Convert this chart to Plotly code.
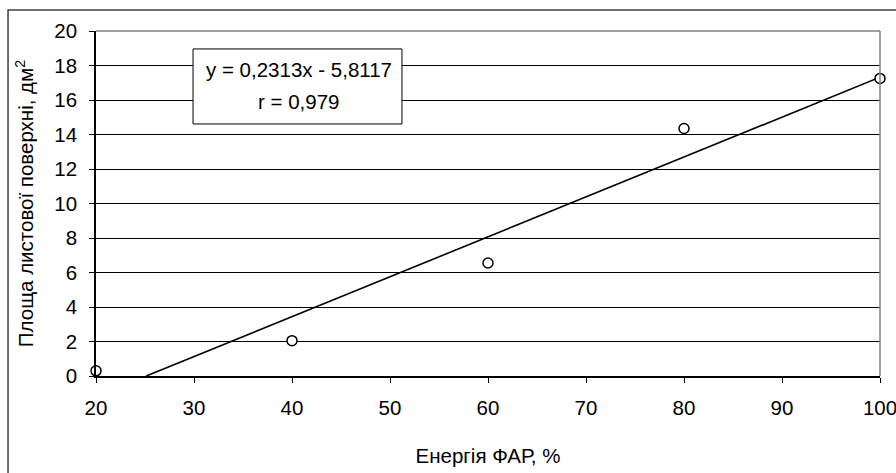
import plotly.graph_objects as go

energy = [20, 40, 60, 80, 100]
area = [0.3, 2.05, 6.55, 14.35, 17.25]
slope = 0.2313
intercept = -5.8117
eq_text = "y = 0,2313x - 5,8117"
r_text = "r = 0,979"
x_ticks = [20, 30, 40, 50, 60, 70, 80, 90, 100]
y_ticks = [0, 2, 4, 6, 8, 10, 12, 14, 16, 18, 20]

x0 = -intercept / slope
line_x = [x0, 100]
line_y = [slope * v + intercept for v in line_x]

FONT = "Liberation Sans, Arial, sans-serif"
FS = 20.5

fig = go.Figure()
fig.add_trace(go.Scatter(x=line_x, y=line_y, mode="lines",
                         line=dict(color="black", width=1.6),
                         hoverinfo="skip", showlegend=False, cliponaxis=False))
fig.add_trace(go.Scatter(x=energy, y=area, mode="markers",
                         marker=dict(symbol="circle", size=10, color="white",
                                     line=dict(color="black", width=1.5)),
                         showlegend=False, cliponaxis=False))

fig.update_layout(
    width=896, height=473,
    margin=dict(l=96, r=16, t=31, b=97),
    paper_bgcolor="white", plot_bgcolor="white",
    font=dict(family=FONT, color="black", size=FS),
    xaxis=dict(range=[20, 100], tickvals=x_ticks, ticks="outside", ticklen=5,
               tickcolor="black", showline=True, linecolor="black", linewidth=1.5,
               showgrid=False, zeroline=False, mirror=False, automargin=False,
               tickfont=dict(size=FS), ticklabelstandoff=8, ticklabeloverflow="allow",
               title=dict(text="Енергія ФАР, %", font=dict(size=FS), standoff=30)),
    yaxis=dict(range=[0, 20], tickvals=y_ticks, ticks="outside", ticklen=5,
               tickcolor="black", showline=True, linecolor="black", linewidth=1.5,
               showgrid=True, gridcolor="black", gridwidth=1, zeroline=False,
               automargin=False, tickfont=dict(size=FS), ticklabelstandoff=8,
               ticklabeloverflow="allow",
               title=dict(text="Площа листової поверхні, дм<sup>2</sup>",
                          font=dict(size=FS), standoff=15)),
)

# plot area right/top border (gray)
fig.add_shape(type="line", xref="paper", yref="paper", x0=0, x1=1, y0=1, y1=1,
              line=dict(color="#808080", width=1.5))
fig.add_shape(type="line", xref="paper", yref="paper", x0=1, x1=1, y0=0, y1=1,
              line=dict(color="#808080", width=1.5))
# outer chart border
fig.add_shape(type="rect", xref="paper", yref="paper",
              x0=-0.1122, x1=1.2, y0=-0.5, y1=1.061,
              line=dict(color="#404040", width=1.5), layer="below")
# equation box
fig.add_shape(type="rect", xref="x", yref="y", x0=29.9, x1=51.22, y0=14.61, y1=18.96,
              line=dict(color="black", width=1), fillcolor="white", layer="above")
fig.add_annotation(x=40.71, y=17.74, xref="x", yref="y", text=eq_text,
                   showarrow=False, font=dict(size=FS, family=FONT))
fig.add_annotation(x=40.71, y=15.9, xref="x", yref="y", text=r_text,
                   showarrow=False, font=dict(size=FS, family=FONT))

fig.write_html("out.html")
